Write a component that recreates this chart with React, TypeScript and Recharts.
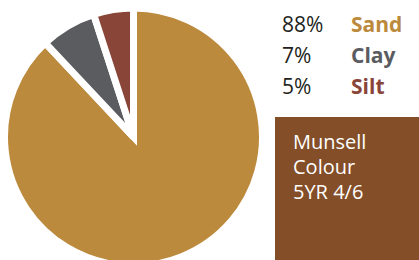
import React from "react";
import { PieChart, Pie, Cell } from "recharts";

const names = ["Sand", "Clay", "Silt"];
const shares = [88, 7, 5];
const colours = ["#BC8A3C", "#5A5C5F", "#8A4539"];
const boxLines = ["Munsell", "Colour", "5YR 4/6"];

const data = names.map((name, i) => ({ name, value: shares[i] }));

const font = "'Open Sans', 'Noto Sans', sans-serif";

export default function App() {
  return (
    <div style={{ position: "absolute", left: 0, top: 0, width: 419, height: 260, background: "#fff", overflow: "hidden" }}>
      <PieChart width={419} height={260} margin={{ top: 0, right: 0, bottom: 0, left: 0 }}>
        <Pie
          data={data}
          dataKey="value"
          nameKey="name"
          cx={133.5}
          cy={137}
          outerRadius={129}
          startAngle={90}
          endAngle={-270}
          stroke="#fff"
          strokeWidth={7}
          strokeLinejoin="miter"
          isAnimationActive={false}
        >
          {data.map((d, i) => (
            <Cell key={d.name} fill={colours[i]} />
          ))}
        </Pie>
      </PieChart>
      <svg width={419} height={260} style={{ position: "absolute", left: 0, top: 0, pointerEvents: "none" }}>
        {names.map((n, i) => (
          <g key={n} fontFamily={font} fontSize={21}>
            <text x={282} y={32 + i * 31} fill="#231F20">{shares[i]}%</text>
            <text x={351} y={32 + i * 31} fill={colours[i]} fontWeight={700}>{n}</text>
          </g>
        ))}
        <rect x={275} y={117} width={144} height={143} fill="#834E28" />
        {boxLines.map((t, i) => (
          <text key={t} x={293} y={149 + i * 25} fill="#fff" fontFamily={font} fontSize={20}>{t}</text>
        ))}
      </svg>
    </div>
  );
}
